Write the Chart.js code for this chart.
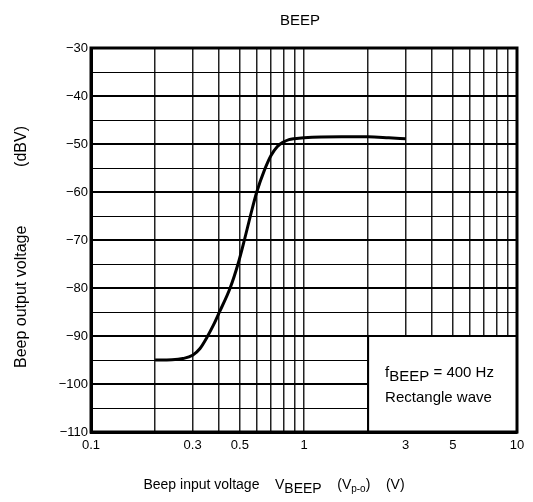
<!DOCTYPE html>
<html>
<head>
<meta charset="utf-8">
<script src="https://cdn.jsdelivr.net/npm/chart.js@4"></script>
<style>
  html, body { margin: 0; padding: 0; background: #fff; }
  #c { display: block; }
</style>
</head>
<body>
<canvas id="c" width="533" height="502"></canvas>
<script>
const chartTitle = "BEEP";
const xValues = [0.2, 0.24, 0.27, 0.3, 0.325, 0.35, 0.375, 0.4, 0.45, 0.49, 0.525, 0.56, 0.6, 0.65, 0.7, 0.75, 0.8, 0.85, 0.9, 1, 1.5, 2, 2.5, 3];
const yValues = [-95, -94.95, -94.7, -94.0, -92.6, -90.3, -87.8, -85.1, -80, -75, -70, -65, -60, -55.6, -52.4, -50.5, -49.6, -49.1, -48.9, -48.7, -48.5, -48.5, -48.7, -48.9];
const xGridValues = [0.1, 0.2, 0.3, 0.4, 0.5, 0.6, 0.7, 0.8, 0.9, 1, 2, 3, 4, 5, 6, 7, 8, 9, 10];
const xTickLabels = [0.1, 0.3, 0.5, 1, 3, 5, 10];
const yMin = -110, yMax = -30;
const noteBox = { x0: 2, x1: 10, y0: -110, y1: -90 };

const FONT = "'Liberation Sans', Arial, sans-serif";

const decor = {
  id: 'decor',
  afterDatasetsDraw(chart) {
    const ctx = chart.ctx;
    const xs = chart.scales.x, ys = chart.scales.y;
    const ca = chart.chartArea;
    ctx.save();
    const bx0 = xs.getPixelForValue(noteBox.x0), bx1 = xs.getPixelForValue(noteBox.x1);
    const by0 = ys.getPixelForValue(noteBox.y1), by1 = ys.getPixelForValue(noteBox.y0);
    ctx.fillStyle = '#fff';
    ctx.fillRect(bx0, by0, bx1 - bx0, by1 - by0);
    ctx.strokeStyle = '#000';
    ctx.lineWidth = 2;
    ctx.strokeRect(bx0, by0, bx1 - bx0, by1 - by0);
    ctx.fillStyle = '#000';
    ctx.textBaseline = 'alphabetic';
    ctx.textAlign = 'left';
    ctx.font = '15px ' + FONT;
    let tx = bx0 + 17, ty = by0 + 41;
    ctx.fillText('f', tx, ty); tx += ctx.measureText('f').width;
    ctx.fillText('BEEP', tx, ty + 4); tx += ctx.measureText('BEEP').width;
    ctx.fillText(' = 400 Hz', tx, ty);
    ctx.fillText('Rectangle wave', bx0 + 17, by0 + 66);
    ctx.lineWidth = 3;
    ctx.strokeRect(ca.left, ca.top, ca.right - ca.left, ca.bottom - ca.top);
    ctx.restore();
  },
  afterDraw(chart) {
    const ctx = chart.ctx;
    const ca = chart.chartArea;
    ctx.save();
    ctx.fillStyle = '#000';
    ctx.font = '15px ' + FONT;
    ctx.textAlign = 'center';
    ctx.textBaseline = 'middle';
    ctx.fillText(chartTitle, (ca.left + ca.right) / 2 - 4, 21);
    ctx.save();
    ctx.translate(22, 0);
    ctx.rotate(-Math.PI / 2);
    ctx.font = '16px ' + FONT;
    ctx.textAlign = 'left';
    ctx.fillText('Beep output voltage', -368, 0);
    ctx.textAlign = 'right';
    ctx.fillText('(dBV)', -126, 0);
    ctx.restore();
    ctx.textAlign = 'left';
    ctx.textBaseline = 'alphabetic';
    const parts = [
      ['Beep input voltage    V', 14, 0],
      ['BEEP', 14, 4],
      ['    (V', 14, 0],
      ['p-o', 10, 3],
      [')    (V)', 14, 0]
    ];
    let total = 0;
    parts.forEach(p => { ctx.font = p[1] + 'px ' + FONT; total += ctx.measureText(p[0]).width; });
    let x = 274 - total / 2;
    const base = 489;
    parts.forEach(p => {
      ctx.font = p[1] + 'px ' + FONT;
      ctx.fillText(p[0], x, base + p[2]);
      x += ctx.measureText(p[0]).width;
    });
    ctx.restore();
  }
};

new Chart(document.getElementById('c'), {
  type: 'line',
  data: {
    datasets: [{
      data: xValues.map((v, i) => ({ x: v, y: yValues[i] })),
      borderColor: '#000',
      borderWidth: 3,
      pointRadius: 0,
      cubicInterpolationMode: 'monotone',
      fill: false
    }]
  },
  options: {
    responsive: false,
    animation: false,
    devicePixelRatio: 1,
    layout: { padding: { top: 48, right: 16, left: 0, bottom: 0 } },
    plugins: { legend: { display: false }, title: { display: false }, tooltip: { enabled: false } },
    scales: {
      x: {
        type: 'logarithmic',
        min: 0.1, max: 10,
        afterBuildTicks(scale) { scale.ticks = xGridValues.map(v => ({ value: v })); },
        afterFit(scale) { scale.height = 70; },
        ticks: {
          autoSkip: false, maxRotation: 0, padding: 6,
          color: '#000',
          font: { family: FONT, size: 13 },
          callback(v) { return xTickLabels.includes(v) ? String(v) : ''; }
        },
        grid: { color: '#222', lineWidth: 1.5, drawTicks: false },
        border: { display: true, color: '#000', width: 3 }
      },
      y: {
        type: 'linear',
        min: yMin, max: yMax,
        afterFit(scale) { scale.width = 91; },
        ticks: {
          stepSize: 5, padding: 3, color: '#000',
          font: { family: FONT, size: 13 },
          callback(v) { return v % 10 === 0 ? '\u2212' + Math.abs(v) : ''; }
        },
        grid: {
          color: '#000',
          lineWidth: ctx => (ctx.tick && ctx.tick.value % 10 === 0) ? 2 : 1,
          drawTicks: false
        },
        border: { display: true, color: '#000', width: 3 }
      }
    }
  },
  plugins: [decor]
});
</script>
</body>
</html>
